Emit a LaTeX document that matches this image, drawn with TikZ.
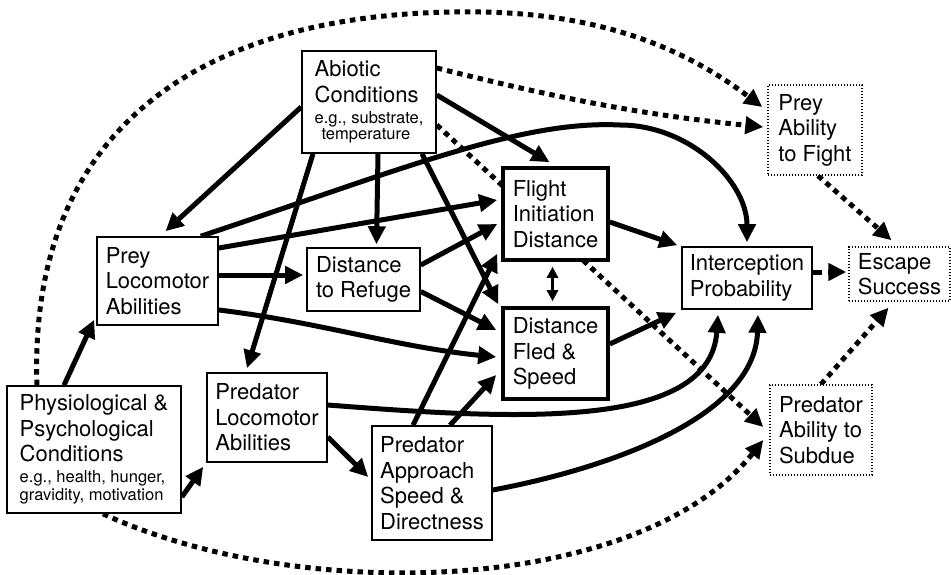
\documentclass[tikz,border=0pt]{standalone}
\usepackage{fontspec}
\setmainfont{TeX Gyre Heros}
\usetikzlibrary{arrows.meta,backgrounds}
\newcommand\subtxt[1]{{\fontsize{16.5}{17}\selectfont #1}}

\begin{document}
\begin{tikzpicture}[x=1pt,y=-1pt,
		font=\fontsize{22}{25.5}\selectfont,
		box/.style={draw,line width=1.6pt,fill=white,align=left,inner sep=2pt},
		thickbox/.style={box,line width=3.6pt},
		dotbox/.style={box,line width=1.4pt,dash pattern=on 1.4pt off 1.6pt},
		link/.style={line width=5pt,arrows={-Triangle[length=18pt,width=17pt]}},
		dotlink/.style={link,dash pattern=on 5.5pt off 5pt},
		dashlink/.style={link,dash pattern=on 9pt off 6pt},
		twolink/.style={line width=3pt,arrows={Triangle[length=11pt,width=11pt]-Triangle[length=11pt,width=11pt]}}]
		\useasboundingbox (0,0) rectangle (951,575);
		\node[box,minimum width=134pt,minimum height=102pt] (abiotic) at (369,102) {Abiotic\\Conditions\\[-4.5pt]\subtxt{e.g., substrate,}\\[-9pt]\subtxt{\hspace*{7pt}temperature}};
		\node[box,minimum width=121pt,minimum height=88pt] (preyloco) at (157.5,281) {Prey\\Locomotor\\Abilities};
		\node[box,minimum width=113pt,minimum height=63pt] (refuge) at (363.5,279.5) {Distance\\to Refuge};
		\node[thickbox,minimum width=105pt,minimum height=92pt] (fid) at (555.5,214) {Flight\\Initiation\\Distance};
		\node[thickbox,minimum width=105pt,minimum height=91pt] (fled) at (555.5,353.5) {Distance\\Fled \&\\Speed};
		\node[box,minimum width=130pt,minimum height=62pt] (intercept) at (747,278) {Interception\\Probability};
		\node[dotbox,minimum width=101pt,minimum height=54pt] (escape) at (899.5,274) {Escape\\Success};
		\node[dotbox,minimum width=94pt,minimum height=90pt] (fight) at (815,130) {Prey\\Ability\\to Fight};
		\node[dotbox,minimum width=102pt,minimum height=90pt] (subdue) at (821,430) {Predator\\Ability to\\Subdue};
		\node[box,minimum width=174pt,minimum height=127pt] (physio) at (94,449.5) {Physiological \&\\Psychological\\Conditions\\[-4.5pt]\subtxt{e.g., health, hunger,}\\[-8pt]\subtxt{gravidity, motivation}};
		\node[box,minimum width=120pt,minimum height=89pt] (predloco) at (267,417.5) {Predator\\Locomotor\\Abilities};
		\node[box,minimum width=120pt,minimum height=114pt] (approach) at (432,483) {Predator\\Approach\\Speed \&\\Directness};
		\begin{scope}[on background layer]
		% abiotic conditions
		\draw[link] ([yshift=-5pt]abiotic.west) -- ([xshift=8pt,yshift=5pt]preyloco.north);
		\draw[link] ([xshift=9pt]abiotic.south) -- ([xshift=13pt,yshift=3pt]refuge.north);
		\draw[link] ([xshift=-56pt]abiotic.south) -- ([xshift=-20pt,yshift=4pt]predloco.north);
		\draw[link] ([yshift=7pt]abiotic.east) -- ([xshift=-6pt,yshift=4pt]fid.north);
		\draw[link] ([xshift=53pt]abiotic.south) -- ([xshift=-3pt,yshift=2pt]fled.north west);
		\draw[dotlink] ([yshift=34pt]abiotic.east) .. controls +(120,30) and +(-120,-12) .. ([xshift=-4pt,yshift=3pt]fight.west);
		\draw[dotlink] ([yshift=-23pt]abiotic.east) -- ([xshift=-6pt,yshift=3pt]subdue.west);
		% physiological conditions
		\draw[dotlink] ([xshift=-57pt]physio.north) .. controls (28,130) and (200,8) .. (480,12) .. controls (620,14) and (700,60) .. ([xshift=-5pt,yshift=23pt]fight.west);
		\draw[dotlink] ([xshift=9pt]physio.south) .. controls (300,605) and (640,595) .. ([xshift=-6pt,yshift=-10pt]subdue.west);
		\draw[link] ([xshift=-30pt]physio.north) -- ([xshift=-2pt,yshift=6pt]preyloco.south west);
		\draw[link] ([yshift=-47.5pt]physio.east) -- ([xshift=-3pt,yshift=-4pt]predloco.south west);
		% prey
		\draw[link] ([yshift=6pt]preyloco.east) -- ([xshift=-3pt,yshift=4.5pt]refuge.west);
		\draw[link] ([yshift=33pt]preyloco.east) -- ([xshift=-4pt,yshift=14pt]fid.west);
		\draw[link] ([yshift=-29pt]preyloco.east) .. controls +(100,12) and +(-100,-10) .. ([xshift=-5pt,yshift=-3.5pt]fled.west);
		\draw[link] ([xshift=-18pt]preyloco.north east) .. controls (400,170) and (520,120) .. (620,125) .. controls (689,125) and (747,181) .. ([yshift=4pt]intercept.north);
		\draw[link] ([yshift=14.5pt]refuge.east) -- ([xshift=-4pt,yshift=-10pt]fid.west);
		\draw[link] ([yshift=-12pt]refuge.east) -- ([xshift=-5pt,yshift=23.5pt]fled.west);
		\draw[twolink] ([xshift=-3pt,yshift=-5pt]fid.south) -- ([xshift=-3pt,yshift=5pt]fled.north);
		\draw[link] ([yshift=-8pt]fid.east) -- ([xshift=-4pt,yshift=1pt]intercept.north west);
		\draw[link] ([yshift=9.5pt]fled.east) -- ([xshift=-5pt,yshift=-3pt]intercept.south west);
		% predator
		\draw[link] ([yshift=-19.5pt]predloco.east) -- ([xshift=-3pt,yshift=6pt]approach.west);
		\draw[link] ([yshift=12.5pt]predloco.east) .. controls (520,420) and (710,430) .. ([xshift=-29pt,yshift=-5pt]intercept.south);
		\draw[link] ([xshift=-19pt]approach.north) -- ([xshift=-4pt,yshift=8pt]fid.south west);
		\draw[link] ([xshift=18pt]approach.north) -- ([xshift=-5pt,yshift=-21.5pt]fled.west);
		\draw[link] ([yshift=-7pt]approach.east) .. controls (600,470) and (755,420) .. ([xshift=11pt,yshift=-5pt]intercept.south);
		% escape
		\draw[dashlink] ([yshift=6pt]intercept.east) -- ([xshift=-2pt,yshift=2pt]escape.west);
		\draw[dotlink] ([xshift=3pt]fight.south) -- ([xshift=-8pt,yshift=6pt]escape.north);
		\draw[dotlink] (subdue.north) -- ([xshift=-11pt,yshift=-6pt]escape.south);
		\end{scope}
	\end{tikzpicture}
\end{document}
